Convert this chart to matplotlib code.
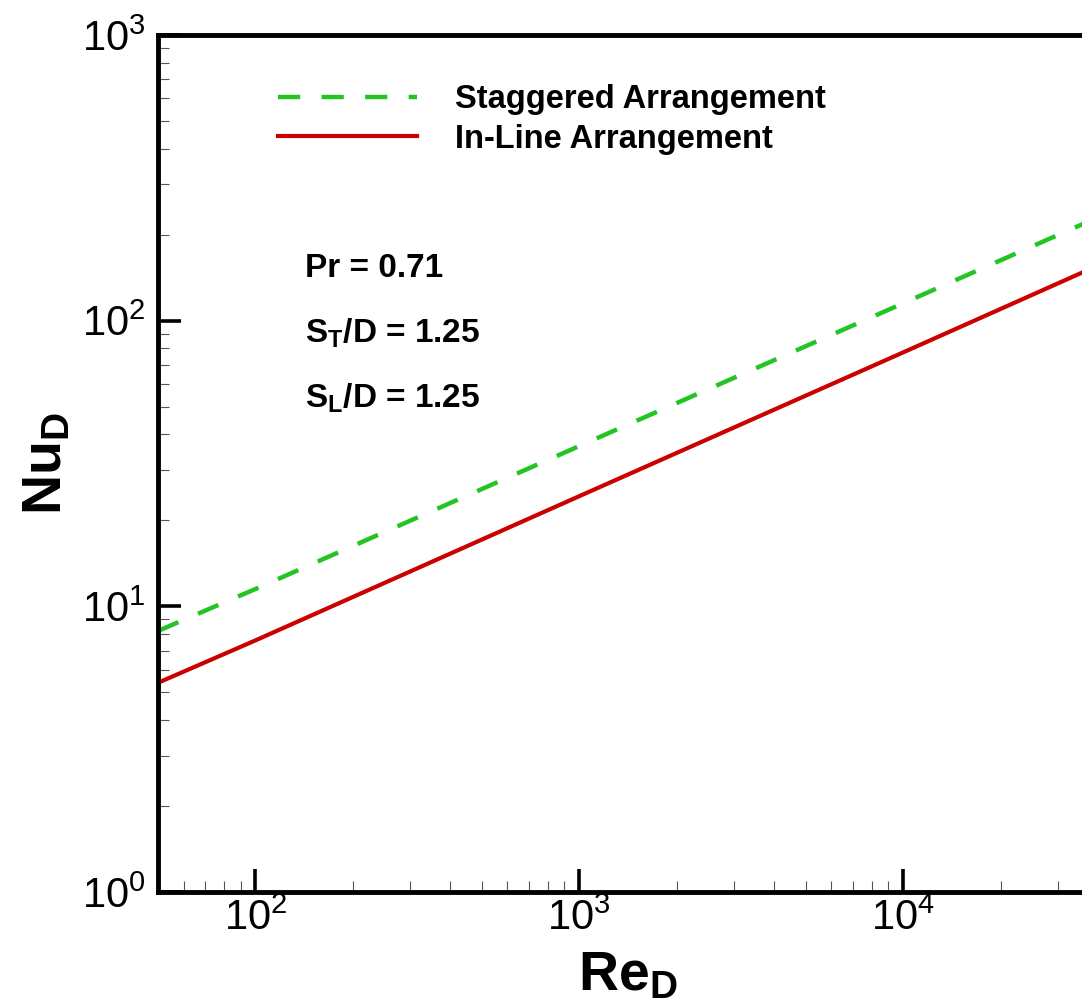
import math
import matplotlib
matplotlib.use("Agg")
import matplotlib.pyplot as plt
from matplotlib.ticker import LogLocator, FuncFormatter, NullFormatter

plt.rcParams['font.family'] = ['Liberation Sans', 'DejaVu Sans']
plt.rcParams['mathtext.fontset'] = 'custom'
plt.rcParams['mathtext.rm'] = 'Liberation Sans'
plt.rcParams['mathtext.bf'] = 'Liberation Sans:bold'
plt.rcParams['mathtext.it'] = 'Liberation Sans:italic'

# values
re_d = [50, 100, 1000, 10000, 40000]
nu_staggered = [8.2, 11.5, 36.4, 115, 230]
nu_inline = [5.4, 7.6, 24.3, 77.4, 156]

labels = ['Staggered Arrangement', 'In-Line Arrangement']
notes = ['Pr = 0.71', r'$\mathbf{S_T}$/D = 1.25', r'$\mathbf{S_L}$/D = 1.25']

fig = plt.figure(figsize=(10.82, 10.08), dpi=100)
# axes runs a little past the right edge, as in the reference
ax = fig.add_axes([158 / 1082, 116 / 1008, 940 / 1082, 857 / 1008])

ax.plot(re_d, nu_staggered, color='#22c522', lw=3.2, linestyle=(0, (5.0, 4.8)),
        label=labels[0])
ax.plot(re_d, nu_inline, color='#cc0000', lw=3.0, label=labels[1])

ax.set_xscale('log')
ax.set_yscale('log')
ax.set_xlim(50, 40000)
ax.set_ylim(1, 1000)

fmt = FuncFormatter(lambda v, p: r'$\mathregular{10^{%d}}$' % round(math.log10(v)))
for axis in (ax.xaxis, ax.yaxis):
    axis.set_major_locator(LogLocator(base=10, numticks=10))
    axis.set_minor_locator(LogLocator(base=10, subs=range(2, 10), numticks=20))
    axis.set_major_formatter(fmt)
    axis.set_minor_formatter(NullFormatter())

ax.tick_params(which='major', direction='in', length=16.5, width=2.6,
               labelsize=30, top=False, right=False)
ax.tick_params(which='minor', direction='in', length=8, width=0.8,
               color='#555555', top=False, right=False)
ax.tick_params(axis='x', which='major', pad=5)
ax.tick_params(axis='y', which='major', pad=9)

for s in ax.spines.values():
    s.set_linewidth(3.5)

ax.set_xlabel(r'$\mathbf{Re_D}$', fontsize=40)
ax.set_ylabel(r'$\mathbf{Nu_D}$', fontsize=40)
ax.xaxis.set_label_coords(0.5, -0.068)
ax.yaxis.set_label_coords(-0.09, 0.5)

leg = ax.legend(loc='upper left', bbox_to_anchor=(0.1277, 0.9423),
                frameon=False, prop={'family': 'Liberation Sans', 'weight': 'bold', 'size': 23.5},
                handlelength=4.26, handletextpad=1.17, labelspacing=0.25,
                borderpad=0, borderaxespad=0)

note_y = [0.728, 0.652, 0.576]
for t, y in zip(notes, note_y):
    ax.text(0.156, y, t, transform=ax.transAxes, fontsize=24,
            fontweight='bold', va='center', ha='left')

fig.savefig('out.png', dpi=100, facecolor='white')
